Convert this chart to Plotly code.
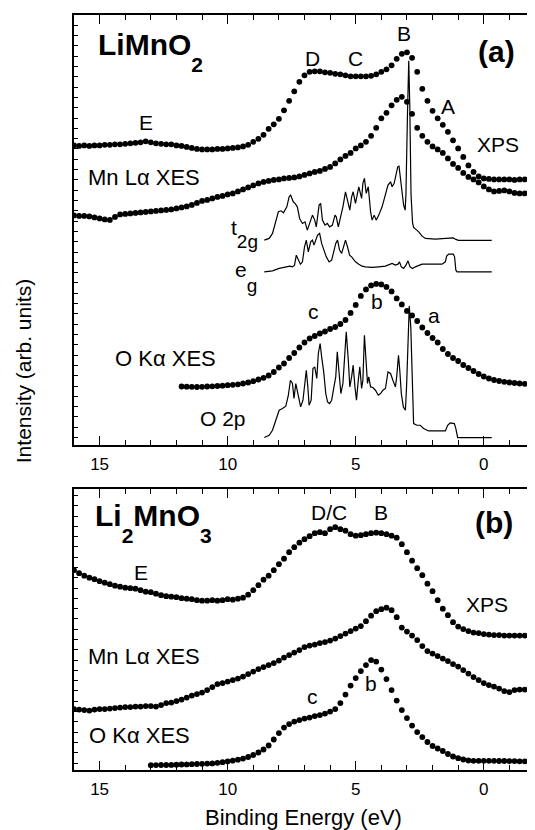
import numpy as np
import plotly.graph_objects as go

# ---------------- data (energies in eV, intensities in arbitrary units) ----------------
# Panel (a) LiMnO2 : dotted spectra sampled every 0.2 eV
xps_a_start = 16.0
xps_a = [299.5, 299, 299.5, 299, 299.5, 299.5, 300, 300, 300.5, 300.5,
         301, 301.5, 302, 302.5, 303.5, 302.5, 301.5, 301, 300.5, 300.5,
         299.5, 299, 298, 297, 296, 295.5, 295.5, 295.5, 296, 296,
         296.5, 297, 297.5, 298.5, 300, 303, 306, 310, 316, 320.5,
         326, 334.5, 344, 353.5, 363, 369.5, 373, 373.5, 373.5, 372.5,
         372, 371, 370.5, 369.5, 368.5, 368.5, 368.5, 368.5, 369, 370.5,
         373, 375.5, 379.5, 386, 391, 392.5, 387, 373, 356, 344,
         334, 326.5, 320, 313, 304.5, 296.5, 288, 279.5, 273, 268.5,
         266.5, 266, 265.5, 265.5, 265.5, 265.5, 265, 265.5, 265.5, 265.5,
         265.5]

mn_a_start = 16.0
mn_a = [229.5, 229, 229, 228.5, 227.5, 226.5, 225.5, 225, 228, 230.5,
        231, 231.5, 232, 232.5, 233, 233.5, 234, 234.5, 235, 235.5,
        236.5, 237.5, 238.5, 240, 242, 244, 245, 246.5, 248, 249,
        250.5, 251.5, 253.5, 255.5, 257.5, 259.5, 261.5, 263, 264, 265,
        265.5, 266.5, 267, 267.5, 268.5, 270, 271.5, 273, 274, 276,
        278, 281.5, 285.5, 289, 292, 296.5, 299.5, 303, 309, 317,
        326.5, 332, 339.5, 345, 348, 343, 331, 317, 309, 303,
        298.5, 295.5, 292, 286.5, 281, 277, 272, 268, 265.5, 262.5,
        258.5, 255.5, 253.5, 254, 254.5, 253.5, 252, 251.5, 251.5, 252,
        252]

ok_a_start = 11.8
ok_a = [58.5, 58.3, 58.2, 58.0, 58.2, 58.5, 58.7, 59.0, 59.3, 59.8,
        60.2, 60.7, 61.5, 62.5, 63.8, 65.5, 67.2, 69.5, 73, 77.5,
        81.5, 87, 92, 97.5, 102.5, 106.5, 109, 111.5, 113.5, 116,
        118, 121, 125, 132, 140, 149, 155.5, 159.5, 161, 160.5,
        158, 153.5, 146.5, 140.5, 134, 129.5, 124, 117.5, 112, 107,
        102.5, 96, 91, 87, 84, 80, 77, 74, 71, 68.5,
        66.5, 65, 64, 63.2, 62.5, 62, 61.5, 61.2, 61, 60.7]

# calculated partial densities of states (solid lines)
t2g_x = [8.57, 8.38, 8.25, 8.12, 8.02, 7.92, 7.82, 7.69, 7.60, 7.54, 7.44, 7.37, 7.28, 7.19,
         7.08, 6.98, 6.89, 6.80, 6.69, 6.60, 6.54, 6.43, 6.37, 6.30, 6.20, 6.11, 6.02, 5.91,
         5.81, 5.76, 5.68, 5.59, 5.50, 5.40, 5.32, 5.23, 5.16, 5.10, 5.01, 4.94, 4.88, 4.77,
         4.72, 4.66, 4.59, 4.51, 4.42, 4.36, 4.28, 4.20, 4.10, 3.97, 3.84, 3.74, 3.64, 3.58,
         3.50, 3.41, 3.36, 3.31, 3.26, 3.19, 3.13, 3.07, 3.04, 2.98, 2.93, 2.89, 2.84, 2.78,
         2.74, 2.65, 2.54, 2.41, 2.28, 1.89, 1.50, 1.30, 1.20, 1.09, 0.99, -0.31]
t2g_y = [204.8, 206.5, 211.5, 223.1, 233.1, 234.1, 232.1, 238.1, 248.1, 249.8, 243.1, 241.5, 238.1, 226.5,
         221.5, 223.1, 214.8, 221.5, 229.8, 224.8, 218.1, 239.8, 241.5, 224.8, 219.8, 221.5, 218.1, 219.8,
         229.8, 228.1, 218.1, 228.1, 238.1, 253.1, 243.1, 234.8, 248.1, 253.1, 241.5, 249.8, 258.1, 246.5,
         261.5, 266.5, 251.5, 258.1, 233.1, 224.8, 229.8, 224.8, 229.8, 238.1, 249.8, 259.8, 263.1, 258.1,
         261.5, 271.5, 278.1, 278.8, 268.1, 254.8, 239.8, 234.8, 250, 330, 384, 340, 250, 222,
         217.5, 215.5, 213.1, 208.8, 206.5, 205.8, 206.1, 206.5, 207.0, 205.5, 204.5, 204.5]

eg_x = [8.57, 8.25, 7.99, 7.73, 7.57, 7.47, 7.39, 7.32, 7.24, 7.16, 7.08, 7.00, 6.93, 6.85,
        6.76, 6.69, 6.63, 6.56, 6.49, 6.41, 6.33, 6.24, 6.15, 6.04, 5.94, 5.86, 5.78, 5.71,
        5.63, 5.55, 5.47, 5.40, 5.32, 5.24, 5.16, 5.08, 5.01, 4.88, 4.75, 4.62, 4.36, 4.10,
        3.84, 3.58, 3.45, 3.35, 3.29, 3.22, 3.13, 3.04, 2.96, 2.88, 2.78, 2.67, 2.54, 2.41,
        2.02, 1.63, 1.50, 1.45, 1.37, 1.19, 1.14, 1.09, 1.04, -0.31]
eg_y = [173.1, 174.1, 176.5, 177.5, 178.8, 178.1, 179.8, 189.8, 184.8, 180.8, 183.1, 198.1, 204.8, 193.1,
        203.1, 204.8, 199.8, 204.8, 209.8, 211.5, 201.5, 194.8, 188.1, 183.1, 184.8, 193.1, 201.5, 204.8,
        194.8, 191.5, 199.8, 204.8, 198.1, 189.8, 188.1, 185.5, 183.1, 180.8, 178.8, 178.1, 177.5, 178.1,
        178.8, 181.5, 179.8, 180.8, 183.1, 178.1, 176.5, 179.8, 184.1, 178.1, 176.5, 178.1, 179.8, 180.8,
        180.8, 180.8, 183.1, 188.8, 190.8, 190.8, 188.1, 174.8, 173.1, 173.1]

o2p_x = [8.57, 8.38, 8.25, 8.12, 7.99, 7.86, 7.73, 7.63, 7.55, 7.47, 7.41, 7.34, 7.28, 7.21,
         7.15, 7.06, 6.98, 6.93, 6.87, 6.82, 6.74, 6.67, 6.60, 6.52, 6.46, 6.39, 6.33, 6.25,
         6.17, 6.10, 6.02, 5.94, 5.85, 5.78, 5.72, 5.66, 5.58, 5.50, 5.43, 5.37, 5.29, 5.23,
         5.16, 5.10, 5.03, 4.97, 4.90, 4.84, 4.77, 4.72, 4.66, 4.59, 4.54, 4.49, 4.42, 4.33,
         4.23, 4.12, 4.03, 3.94, 3.84, 3.74, 3.64, 3.55, 3.45, 3.40, 3.33, 3.28, 3.22, 3.14,
         3.06, 3.01, 2.96, 2.91, 2.85, 2.80, 2.74, 2.61, 2.48, 2.35, 2.15, 1.89, 1.50, 1.41,
         1.31, 1.15, 1.09, 1.02, -0.31]
o2p_y = [7.5, 9.8, 14.8, 24.8, 34.8, 36.5, 38.8, 49.8, 64.8, 61.5, 46.5, 61.5, 53.1, 44.8,
         38.1, 44.8, 64.8, 74.8, 58.1, 39.8, 44.8, 76.5, 78.1, 66.5, 91.5, 101.5, 88.1, 73.1,
         51.5, 43.1, 41.5, 44.8, 58.1, 68.1, 93.1, 74.8, 51.5, 61.5, 91.5, 113.1, 84.8, 58.1,
         68.1, 79.8, 58.1, 44.8, 64.8, 78.1, 56.5, 64.8, 109.8, 78.1, 61.5, 68.1, 58.1, 57.5,
         54.8, 49.8, 51.5, 54.8, 56.5, 73.1, 71.5, 64.8, 58.1, 68.1, 89.8, 74.8, 51.5, 38.1,
         34.8, 61.5, 111.5, 139, 118.1, 68.1, 21.5, 19.8, 19.8, 16.5, 14.1, 14.1, 14.1, 19.8,
         22.1, 21.5, 16.5, 7.5, 7.5]

# Panel (b) Li2MnO3
xps_b_start = 16.0
xps_b = [200, 197, 194.5, 192.5, 191, 189, 187.5, 186, 184.5, 183.5,
         182.5, 182, 181.5, 180, 178.5, 178, 176.5, 175, 174, 173.5,
         173, 172, 171.5, 171, 170, 169.5, 169.5, 170, 169.5, 170,
         171, 170.5, 171.5, 172.5, 175.5, 180, 185, 190.5, 194.5, 200,
         206, 211.5, 218, 223, 227.5, 231, 234, 237, 238, 237,
         241, 243, 241, 239.5, 236, 234.5, 235, 236, 237, 237.5,
         237, 236, 234.5, 232.5, 226, 218, 209.5, 202, 195, 186.5,
         179, 170, 161.5, 155, 148, 143.5, 141, 139, 137.5, 137,
         136, 135.5, 135, 135, 134.5, 134.5, 134.5, 134.5, 134.5, 134.5,
         134.5]

mn_b_start = 16.0
mn_b = [61, 60.5, 60, 59.5, 60.5, 61, 61, 61.5, 62, 62.5,
        63, 63, 63.5, 63.5, 64, 64, 63.5, 65, 67, 67.5,
        69, 70.5, 72.5, 74.5, 76, 77.5, 80, 83, 86, 87,
        88.5, 90, 91.5, 93.5, 96, 98.5, 101, 103, 105, 107,
        109.5, 112.5, 115, 117.5, 120, 123, 124.5, 125.5, 127, 128,
        129.5, 131.5, 134, 136.5, 139, 141.5, 144, 149, 154.5, 159,
        161, 162.5, 160, 153, 142.5, 138.5, 134.5, 130, 124, 119,
        116.5, 114, 111.5, 109, 106, 103.5, 100, 96.5, 93, 90,
        87, 85, 83.5, 81.5, 79, 78, 80, 80.5, 80.5, 80,
        80]

ok_b_start = 13.0
ok_b = [4.8, 4.9, 5.0, 5.0, 5.1, 5.3, 5.5, 5.6, 5.8, 6.0,
        6.2, 6.4, 6.6, 7.2, 7.8, 8.5, 9.4, 10.3, 11.4, 13,
        15, 17.5, 20.5, 24.5, 30.5, 37, 42.5, 46, 48.5, 50,
        51.5, 52.5, 54, 55, 56.5, 58.5, 61, 67, 75.5, 84.5,
        92, 99, 105, 110, 108.5, 100.5, 91, 80, 69.5, 60,
        52, 44.5, 38, 33, 28, 24, 21.5, 19, 16, 13.5,
        11.8, 10.5, 9.5, 9.2, 9.2, 9.2, 9.2, 9.1, 9.0, 9.0,
        8.9, 8.8, 8.7, 8.6, 8.6, 8.5]

x_ticks = [15, 10, 5, 0]

STEP = 0.2


def grid(start, values):
    return np.round(start - STEP * np.arange(len(values)), 3)


FONT = "Arial, Liberation Sans, sans-serif"
fig = go.Figure()


def dots(xs, ys, xa, ya):
    fig.add_trace(go.Scatter(x=xs, y=ys, mode="markers", xaxis=xa, yaxis=ya,
                             marker=dict(color="black", size=5.8, line=dict(width=0)),
                             showlegend=False, hoverinfo="skip"))


def line(xs, ys, xa, ya):
    fig.add_trace(go.Scatter(x=xs, y=ys, mode="lines", xaxis=xa, yaxis=ya,
                             line=dict(color="black", width=1.2),
                             showlegend=False, hoverinfo="skip"))


dots(grid(xps_a_start, xps_a), xps_a, "x", "y")
dots(grid(mn_a_start, mn_a), mn_a, "x", "y")
dots(grid(ok_a_start, ok_a), ok_a, "x", "y")
line(t2g_x, t2g_y, "x", "y")
line(eg_x, eg_y, "x", "y")
line(o2p_x, o2p_y, "x", "y")

dots(grid(xps_b_start, xps_b), xps_b, "x2", "y2")
dots(grid(mn_b_start, mn_b), mn_b, "x2", "y2")
dots(grid(ok_b_start, ok_b), ok_b, "x2", "y2")

xaxis_common = dict(range=[16, -2], autorange=False, showline=True, linecolor="black", linewidth=1.6,
                    mirror="ticks", ticks="inside", ticklen=9, tickwidth=1.4, tickcolor="black",
                    tickmode="array", tickvals=x_ticks, ticktext=[str(v) for v in x_ticks],
                    minor=dict(ticks="inside", dtick=1, tick0=0, ticklen=5, tickwidth=1.2, tickcolor="black"),
                    showgrid=False, zeroline=False, ticklabelstandoff=3,
                    tickfont=dict(family=FONT, size=17, color="black"))
yaxis_common = dict(showline=True, linecolor="black", linewidth=1.6, mirror=False,
                    ticks="inside", ticklen=4, tickwidth=1, tickcolor="black",
                    showticklabels=False, showgrid=False, zeroline=False, autorange=False)

# the page body adds an 8 px margin, so the figure is 8 px smaller than the window
H_A = 429.8
H_B = 280.8
fig.update_layout(
    width=527, height=822,
    margin=dict(l=66, r=0, t=7, b=60.4),
    paper_bgcolor="white", plot_bgcolor="white",
    xaxis=dict(domain=[0, 1], anchor="y", **xaxis_common),
    yaxis=dict(domain=[0.4304, 1], anchor="x", range=[0, H_A], dtick=10.3, tick0=7.5, **yaxis_common),
    xaxis2=dict(domain=[0, 1], anchor="y2", **xaxis_common),
    yaxis2=dict(domain=[0, 0.3716], anchor="x2", range=[0, H_B], dtick=10.3, tick0=7.0, **yaxis_common),
)

annots = []


def label(text, x, y, ref, size=21, bold=False, xanchor="center"):
    t = f"<b>{text}</b>" if bold else text
    annots.append(dict(text=t, x=x, y=y, xref="x" if ref == "a" else "x2",
                       yref="y" if ref == "a" else "y2", showarrow=False,
                       xanchor=xanchor, yanchor="middle",
                       font=dict(family=FONT, size=size, color="black")))


def sub(t, size, shift):
    return f"<span style='font-size:{size}px;baseline-shift:-{shift}px'>{t}</span>"


# panel (a)
label("LiMnO" + sub("2", 21, 17), 15.15, 393.1, "a", size=30, bold=True, xanchor="left")
label("(a)", -0.5, 393.3, "a", size=30, bold=True)
label("D", 6.69, 386.8, "a")
label("C", 5.00, 386.8, "a")
label("B", 3.12, 411.5, "a")
label("A", 1.40, 338.1, "a")
label("E", 13.17, 321.9, "a")
label("XPS", -0.57, 300.8, "a")
label("Mn Lα XES", 13.25, 267.3, "a", size=22)
label("t" + sub("2g", 19, 13), 9.93, 210.8, "a", xanchor="left")
label("e" + sub("g", 19, 15), 9.81, 167.8, "a", xanchor="left")
label("c", 6.63, 133.8, "a")
label("b", 4.17, 143.6, "a")
label("a", 1.96, 129.8, "a")
label("O Kα XES", 12.44, 87.0, "a", size=22)
label("O 2p", 10.19, 26.6, "a")

# panel (b)
label("Li" + sub("2", 21, 17) + "MnO" + sub("3", 21, 17), 15.25, 247.6, "b",
      size=30, bold=True, xanchor="left")
label("(b)", -0.38, 247.9, "b", size=30, bold=True)
label("D/C", 6.04, 257.9, "b")
label("B", 4.03, 257.9, "b")
label("E", 13.37, 197.9, "b")
label("XPS", -0.13, 165.6, "b")
label("Mn Lα XES", 13.25, 113.3, "b", size=22)
label("O Kα XES", 13.44, 34.8, "b", size=22)
label("c", 6.69, 74.0, "b")
label("b", 4.41, 87.0, "b")

# axis titles
annots.append(dict(text="Binding Energy (eV)", x=0.4989, y=-0.0628, xref="paper", yref="paper",
                   showarrow=False, xanchor="center", yanchor="middle",
                   font=dict(family=FONT, size=22, color="black")))
annots.append(dict(text="Intensity (arb. units)", x=-0.1106, y=0.5282, xref="paper", yref="paper",
                   showarrow=False, xanchor="center", yanchor="middle", textangle=-90,
                   font=dict(family=FONT, size=21, color="black")))

fig.update_layout(annotations=annots)
fig.write_html("out.html")
